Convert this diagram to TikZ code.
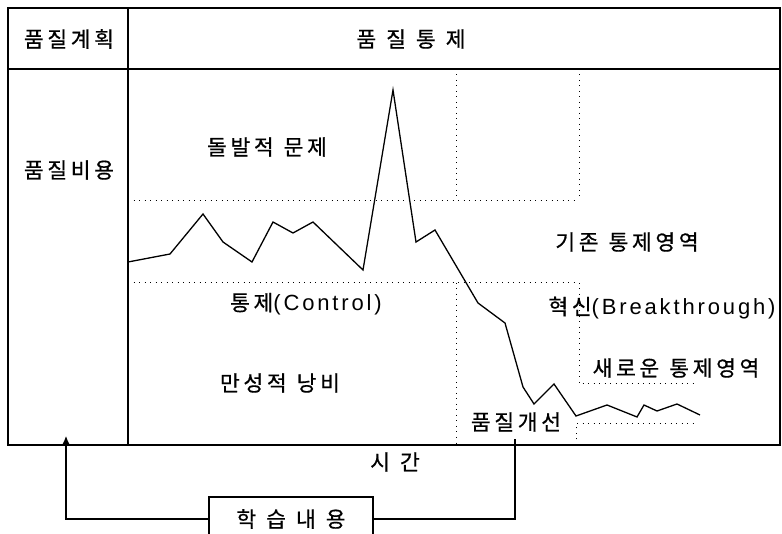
\documentclass[tikz,border=0pt]{standalone}
\usepackage{fontspec}
\newfontfamily\kr[LetterSpace=17,FakeBold=0.6]{Noto Sans CJK KR}
\newfontfamily\lat[LetterSpace=13]{Liberation Sans}
\newcommand{\csp}{\hspace{10pt}}
\newcommand{\wsp}{\hspace{10pt}}
\usetikzlibrary{arrows.meta}
\begin{document}
\begin{tikzpicture}[x=1pt,y=-1pt,
  lbl/.style={font=\kr\fontsize{21.5}{23}\selectfont, inner sep=0pt, anchor=center},
  frame/.style={line width=1.4pt},
  dotline/.style={line width=1pt, dash pattern=on 1pt off 4.5pt},
  curve/.style={line width=1.3pt, line join=miter},
  conn/.style={line width=1.1pt}]
\useasboundingbox (0,0) rectangle (782,534);
\clip (0,0) rectangle (782,534);
\fill[white] (0,0) rectangle (782,534);
% frame
\draw[frame] (8,8) rectangle (780,445);
\draw[frame] (8,69) -- (780,69);
\draw[frame] (128,8) -- (128,445);
% dotted regions
\draw[dotline] (128,201) -- (579,201);
\draw[dotline] (456,69) -- (456,201);
\draw[dotline] (579,69) -- (579,201);
\draw[dotline] (128,283) -- (579,283) -- (579,384) -- (695,384);
\draw[dotline] (456,283) -- (456,445);
\draw[dotline] (576,445) -- (576,424) -- (697,424);
% curve
\draw[curve] (128,262) -- (170,254) -- (203,214) -- (223,242) -- (252,262)
  -- (273,222) -- (293,233) -- (313,222) -- (363,270) -- (393,90)
  -- (416,242) -- (435,230) -- (478,303) -- (505,323) -- (523,387)
  -- (534,404) -- (554,384) -- (576,416) -- (607,405) -- (637,417)
  -- (644,405) -- (657,411) -- (677,404) -- (700,415);
% labels
\node[lbl] (plan) at (69,39) {품질계획};
\node[lbl] (ctrlhead) at (411,39) {품\csp 질\csp 통\csp 제};
\node[lbl] (cost) at (69,170) {품질비용};
\node[lbl] (sporadic) at (267,147) {돌발적\wsp 문제};
\node[lbl] (oldzone) at (627,242) {기존\wsp 통제영역};
\node[lbl] (control) at (306,304) {통제{\lat\fontsize{22}{24}\selectfont(Control)}};
\node[lbl] (chronic) at (280,383) {만성적\wsp 낭비};
\node[lbl] (breakthrough) at (662,308) {혁신{\lat\fontsize{22}{24}\selectfont(Breakthrough)}};
\node[lbl] (newzone) at (676,368) {새로운\wsp 통제영역};
\node[lbl] (improve) at (516,422) {품질개선};
\node[lbl] (time) at (395,462) {시\csp 간};
% learning box
\node[lbl, draw, line width=1.1pt, minimum width=164pt, minimum height=44pt] (learn) at (291,519) {학\csp 습\csp 내\csp 용};
\coordinate (arrowtip) at (66,436);
\coordinate (tick) at (515,439);
\draw[conn, -{Latex[length=8pt,width=7pt]}] (learn.west) -| (arrowtip);
\draw[conn] (learn.east) -| (tick);
\end{tikzpicture}
\end{document}
